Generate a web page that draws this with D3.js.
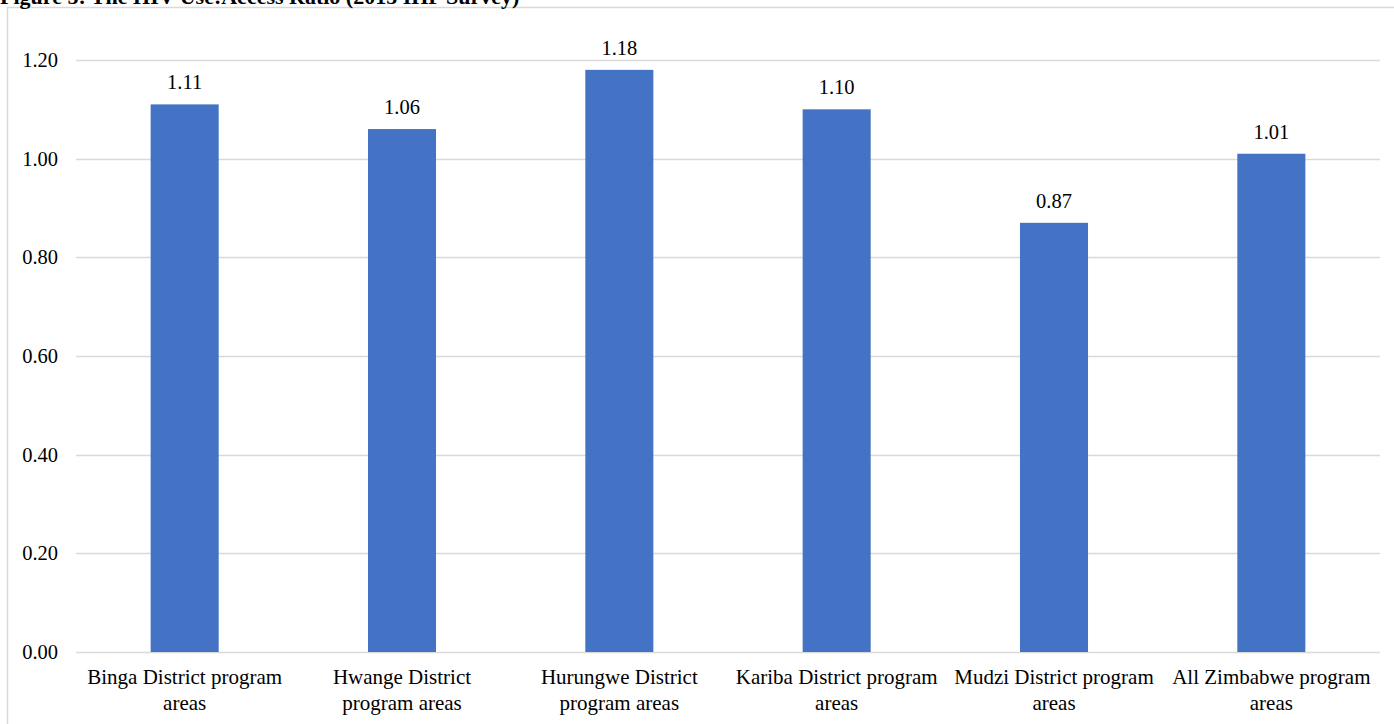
<!DOCTYPE html>
<html>
<head>
<meta charset="utf-8">
<script src="https://cdn.jsdelivr.net/npm/d3@7"></script>
<style>
  html, body { margin: 0; padding: 0; background: #fff; }
  svg { display: block; }
  text { font-family: "Liberation Serif", "Times New Roman", serif; fill: #000; }
</style>
</head>
<body>
<svg id="chart" width="1394" height="724"></svg>
<script>
// Use:access ratio by program area
const categories = [
  "Binga District program\nareas",
  "Hwange District\nprogram areas",
  "Hurungwe District\nprogram areas",
  "Kariba District program\nareas",
  "Mudzi District program\nareas",
  "All Zimbabwe program\nareas"
];
const ratios = [1.11, 1.06, 1.18, 1.10, 0.87, 1.01];
const yTicks = [0, 0.2, 0.4, 0.6, 0.8, 1.0, 1.2];
const title = "Figure 5: The HIV Use:Access Ratio (2015 IHP Survey)";

const svg = d3.select("#chart");
const margin = { left: 76, right: 14 };
const W = 1394, H = 724;
const FS = 20.5;

// outer chart frame
svg.append("rect")
  .attr("x", 7.5).attr("y", 7.5)
  .attr("width", W + 10).attr("height", H + 10)
  .attr("fill", "none").attr("stroke", "#d9d9d9").attr("stroke-width", 1.5);

// caption above the frame
svg.append("text")
  .attr("x", 0).attr("y", 4)
  .attr("font-size", 22).attr("font-weight", "bold")
  .text(title);

const x = d3.scaleBand()
  .domain(categories)
  .range([margin.left, W - margin.right])
  .paddingInner(0.687).paddingOuter(0.3435);

const y = d3.scaleLinear()
  .domain([0, 1.2])
  .range([652, 60]);

// gridlines
svg.append("g")
  .selectAll("line")
  .data(yTicks)
  .join("line")
  .attr("x1", margin.left).attr("x2", W - margin.right)
  .attr("y1", d => Math.round(y(d)) + 0.5).attr("y2", d => Math.round(y(d)) + 0.5)
  .attr("stroke", "#d9d9d9").attr("stroke-width", 1.5);

// y axis labels
const yAxis = d3.axisLeft(y).tickValues(yTicks).tickFormat(d3.format(".2f")).tickSize(0).tickPadding(0);
svg.append("g")
  .attr("transform", "translate(58,0)")
  .call(yAxis)
  .call(g => g.select(".domain").remove())
  .call(g => g.selectAll("text")
    .attr("font-family", "Liberation Serif, Times New Roman, serif")
    .attr("font-size", FS).attr("fill", "#000"));

// bars
svg.append("g")
  .selectAll("rect")
  .data(ratios)
  .join("rect")
  .attr("x", (d, i) => x(categories[i]))
  .attr("width", x.bandwidth())
  .attr("y", d => y(d))
  .attr("height", d => y(0) - y(d))
  .attr("fill", "#4472c4");

// value labels
svg.append("g")
  .selectAll("text")
  .data(ratios)
  .join("text")
  .attr("x", (d, i) => x(categories[i]) + x.bandwidth() / 2)
  .attr("y", d => y(d) - 15)
  .attr("text-anchor", "middle")
  .attr("font-size", FS)
  .text(d => d3.format(".2f")(d));

// category labels (two lines)
const xl = svg.append("g")
  .selectAll("text")
  .data(categories)
  .join("text")
  .attr("x", d => x(d) + x.bandwidth() / 2)
  .attr("y", 684)
  .attr("text-anchor", "middle")
  .attr("font-size", 21);
xl.selectAll("tspan")
  .data(d => d.split("\n").map(s => ({ s, cx: x(d) + x.bandwidth() / 2 })))
  .join("tspan")
  .attr("x", d => d.cx)
  .attr("dy", (d, i) => i === 0 ? 0 : 26)
  .text(d => d.s);
</script>
</body>
</html>
